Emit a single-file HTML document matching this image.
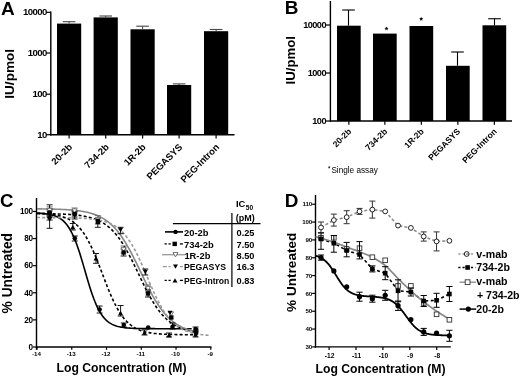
<!DOCTYPE html>
<html><head><meta charset="utf-8"><style>
html,body{margin:0;padding:0;background:#fff;}
svg{display:block;will-change:transform;}
text{font-family:"Liberation Sans",sans-serif;}
</style></head><body>
<svg width="520" height="377" viewBox="0 0 520 377">
<rect width="520" height="377" fill="#fff"/>
<text x="1.00" y="14.70" font-size="19" font-weight="bold" text-anchor="start" fill="#000" >A</text>
<line x1="50.80" y1="11.60" x2="50.80" y2="135.40" stroke="#000" stroke-width="1.4" />
<line x1="50.10" y1="134.70" x2="234.50" y2="134.70" stroke="#000" stroke-width="1.4" />
<line x1="46.30" y1="12.30" x2="50.80" y2="12.30" stroke="#000" stroke-width="1.2" />
<text x="46.80" y="15.40" font-size="9.6" font-weight="bold" text-anchor="end" fill="#000" letter-spacing="-0.6">10000</text>
<line x1="46.30" y1="53.00" x2="50.80" y2="53.00" stroke="#000" stroke-width="1.2" />
<text x="46.80" y="56.10" font-size="9.6" font-weight="bold" text-anchor="end" fill="#000" letter-spacing="-0.6">1000</text>
<line x1="46.30" y1="94.20" x2="50.80" y2="94.20" stroke="#000" stroke-width="1.2" />
<text x="46.80" y="97.30" font-size="9.6" font-weight="bold" text-anchor="end" fill="#000" letter-spacing="-0.6">100</text>
<line x1="46.30" y1="134.70" x2="50.80" y2="134.70" stroke="#000" stroke-width="1.2" />
<text x="46.80" y="137.80" font-size="9.6" font-weight="bold" text-anchor="end" fill="#000" letter-spacing="-0.6">10</text>
<rect x="57.00" y="23.60" width="24.20" height="111.10" fill="#000" />
<line x1="69.10" y1="21.70" x2="69.10" y2="23.60" stroke="#444" stroke-width="1.0" />
<line x1="62.80" y1="21.70" x2="75.40" y2="21.70" stroke="#444" stroke-width="1.1" />
<line x1="69.10" y1="134.70" x2="69.10" y2="138.50" stroke="#000" stroke-width="1.2" />
<text transform="translate(72.90,147.70) rotate(-45)" font-size="9.5" font-weight="bold" text-anchor="end" >20-2b</text>
<rect x="93.60" y="17.40" width="24.20" height="117.30" fill="#000" />
<line x1="105.70" y1="16.00" x2="105.70" y2="17.40" stroke="#444" stroke-width="1.0" />
<line x1="99.40" y1="16.00" x2="112.00" y2="16.00" stroke="#444" stroke-width="1.1" />
<line x1="105.70" y1="134.70" x2="105.70" y2="138.50" stroke="#000" stroke-width="1.2" />
<text transform="translate(109.50,147.70) rotate(-45)" font-size="9.5" font-weight="bold" text-anchor="end" >734-2b</text>
<rect x="130.50" y="29.30" width="24.20" height="105.40" fill="#000" />
<line x1="142.60" y1="26.20" x2="142.60" y2="29.30" stroke="#444" stroke-width="1.0" />
<line x1="136.30" y1="26.20" x2="148.90" y2="26.20" stroke="#444" stroke-width="1.1" />
<line x1="142.60" y1="134.70" x2="142.60" y2="138.50" stroke="#000" stroke-width="1.2" />
<text transform="translate(146.40,147.70) rotate(-45)" font-size="9.5" font-weight="bold" text-anchor="end" >1R-2b</text>
<rect x="167.00" y="85.00" width="24.20" height="49.70" fill="#000" />
<line x1="179.10" y1="83.90" x2="179.10" y2="85.00" stroke="#444" stroke-width="1.0" />
<line x1="172.80" y1="83.90" x2="185.40" y2="83.90" stroke="#444" stroke-width="1.1" />
<line x1="179.10" y1="134.70" x2="179.10" y2="138.50" stroke="#000" stroke-width="1.2" />
<text transform="translate(182.90,147.70) rotate(-45)" font-size="9.5" font-weight="bold" text-anchor="end" >PEGASYS</text>
<rect x="204.00" y="31.20" width="24.20" height="103.50" fill="#000" />
<line x1="216.10" y1="29.50" x2="216.10" y2="31.20" stroke="#444" stroke-width="1.0" />
<line x1="209.80" y1="29.50" x2="222.40" y2="29.50" stroke="#444" stroke-width="1.1" />
<line x1="216.10" y1="134.70" x2="216.10" y2="138.50" stroke="#000" stroke-width="1.2" />
<text transform="translate(219.90,147.70) rotate(-45)" font-size="9.5" font-weight="bold" text-anchor="end" >PEG-Intron</text>
<text transform="translate(13.90,73.80) rotate(-90)" font-size="13.6" font-weight="bold" text-anchor="middle" >IU/pmol</text>
<text x="284.80" y="14.10" font-size="18.9" font-weight="bold" text-anchor="start" fill="#000" >B</text>
<line x1="330.40" y1="1.00" x2="330.40" y2="121.70" stroke="#000" stroke-width="1.4" />
<line x1="329.70" y1="121.00" x2="512.00" y2="121.00" stroke="#000" stroke-width="1.4" />
<line x1="326.00" y1="25.00" x2="330.40" y2="25.00" stroke="#000" stroke-width="1.2" />
<text x="326.00" y="27.90" font-size="9.2" font-weight="bold" text-anchor="end" fill="#000" letter-spacing="-0.55">10000</text>
<line x1="326.00" y1="73.00" x2="330.40" y2="73.00" stroke="#000" stroke-width="1.2" />
<text x="326.00" y="75.90" font-size="9.2" font-weight="bold" text-anchor="end" fill="#000" letter-spacing="-0.55">1000</text>
<line x1="326.00" y1="121.00" x2="330.40" y2="121.00" stroke="#000" stroke-width="1.2" />
<text x="326.00" y="123.90" font-size="9.2" font-weight="bold" text-anchor="end" fill="#000" letter-spacing="-0.55">100</text>
<rect x="337.00" y="25.70" width="23.70" height="95.30" fill="#000" />
<line x1="348.50" y1="10.00" x2="348.50" y2="25.70" stroke="#000" stroke-width="1.1" />
<line x1="342.20" y1="10.00" x2="354.80" y2="10.00" stroke="#000" stroke-width="1.1" />
<line x1="348.85" y1="121.00" x2="348.85" y2="124.80" stroke="#000" stroke-width="1.2" />
<text transform="translate(351.85,132.00) rotate(-45)" font-size="8.5" font-weight="bold" text-anchor="end" >20-2b</text>
<rect x="373.00" y="33.60" width="23.70" height="87.40" fill="#000" />
<line x1="384.85" y1="121.00" x2="384.85" y2="124.80" stroke="#000" stroke-width="1.2" />
<text transform="translate(387.85,132.00) rotate(-45)" font-size="8.5" font-weight="bold" text-anchor="end" >734-2b</text>
<rect x="409.50" y="26.00" width="23.70" height="95.00" fill="#000" />
<line x1="421.35" y1="121.00" x2="421.35" y2="124.80" stroke="#000" stroke-width="1.2" />
<text transform="translate(424.35,132.00) rotate(-45)" font-size="8.5" font-weight="bold" text-anchor="end" >1R-2b</text>
<rect x="446.00" y="65.80" width="23.70" height="55.20" fill="#000" />
<line x1="457.50" y1="52.00" x2="457.50" y2="65.80" stroke="#000" stroke-width="1.1" />
<line x1="451.20" y1="52.00" x2="463.80" y2="52.00" stroke="#000" stroke-width="1.1" />
<line x1="457.85" y1="121.00" x2="457.85" y2="124.80" stroke="#000" stroke-width="1.2" />
<text transform="translate(460.85,132.00) rotate(-45)" font-size="8.5" font-weight="bold" text-anchor="end" >PEGASYS</text>
<rect x="482.50" y="25.30" width="23.70" height="95.70" fill="#000" />
<line x1="494.50" y1="18.75" x2="494.50" y2="25.30" stroke="#000" stroke-width="1.1" />
<line x1="488.20" y1="18.75" x2="500.80" y2="18.75" stroke="#000" stroke-width="1.1" />
<line x1="494.35" y1="121.00" x2="494.35" y2="124.80" stroke="#000" stroke-width="1.2" />
<text transform="translate(497.35,132.00) rotate(-45)" font-size="8.5" font-weight="bold" text-anchor="end" >PEG-Intron</text>
<polygon points="386.50,26.40 387.08,27.80 388.59,27.92 387.44,28.91 387.79,30.38 386.50,29.59 385.21,30.38 385.56,28.91 384.41,27.92 385.92,27.80" fill="#111"/>
<polygon points="421.20,16.70 421.78,18.10 423.29,18.22 422.14,19.21 422.49,20.68 421.20,19.89 419.91,20.68 420.26,19.21 419.11,18.22 420.62,18.10" fill="#111"/>
<text transform="translate(295.30,60.30) rotate(-90)" font-size="13.2" font-weight="bold" text-anchor="middle" >IU/pmol</text>
<polygon points="329.20,165.70 329.60,166.65 330.63,166.74 329.84,167.41 330.08,168.41 329.20,167.88 328.32,168.41 328.56,167.41 327.77,166.74 328.80,166.65" fill="#222"/>
<text x="331.40" y="173.00" font-size="8.2" font-weight="normal" text-anchor="start" fill="#000" >Single assay</text>
<text x="0.00" y="207.00" font-size="18.6" font-weight="bold" text-anchor="start" fill="#000" >C</text>
<line x1="36.50" y1="198.00" x2="36.50" y2="349.80" stroke="#000" stroke-width="1.4" />
<line x1="35.80" y1="347.00" x2="211.40" y2="347.00" stroke="#000" stroke-width="1.4" />
<line x1="32.80" y1="347.00" x2="36.50" y2="347.00" stroke="#000" stroke-width="1.2" />
<text x="32.90" y="349.75" font-size="8.2" font-weight="bold" text-anchor="end" fill="#000" letter-spacing="-0.25">0</text>
<line x1="32.80" y1="319.89" x2="36.50" y2="319.89" stroke="#000" stroke-width="1.2" />
<text x="32.90" y="322.64" font-size="8.2" font-weight="bold" text-anchor="end" fill="#000" letter-spacing="-0.25">20</text>
<line x1="32.80" y1="292.78" x2="36.50" y2="292.78" stroke="#000" stroke-width="1.2" />
<text x="32.90" y="295.53" font-size="8.2" font-weight="bold" text-anchor="end" fill="#000" letter-spacing="-0.25">40</text>
<line x1="32.80" y1="265.67" x2="36.50" y2="265.67" stroke="#000" stroke-width="1.2" />
<text x="32.90" y="268.42" font-size="8.2" font-weight="bold" text-anchor="end" fill="#000" letter-spacing="-0.25">60</text>
<line x1="32.80" y1="238.56" x2="36.50" y2="238.56" stroke="#000" stroke-width="1.2" />
<text x="32.90" y="241.31" font-size="8.2" font-weight="bold" text-anchor="end" fill="#000" letter-spacing="-0.25">80</text>
<line x1="32.80" y1="211.45" x2="36.50" y2="211.45" stroke="#000" stroke-width="1.2" />
<text x="32.90" y="214.20" font-size="8.2" font-weight="bold" text-anchor="end" fill="#000" letter-spacing="-0.25">100</text>
<line x1="37.00" y1="347.00" x2="37.00" y2="349.80" stroke="#000" stroke-width="1.2" />
<text x="36.40" y="355.80" font-size="6.2" font-weight="bold" text-anchor="middle" fill="#000" >-14</text>
<line x1="71.76" y1="347.00" x2="71.76" y2="349.80" stroke="#000" stroke-width="1.2" />
<text x="71.16" y="355.80" font-size="6.2" font-weight="bold" text-anchor="middle" fill="#000" >-13</text>
<line x1="106.52" y1="347.00" x2="106.52" y2="349.80" stroke="#000" stroke-width="1.2" />
<text x="105.92" y="355.80" font-size="6.2" font-weight="bold" text-anchor="middle" fill="#000" >-12</text>
<line x1="141.28" y1="347.00" x2="141.28" y2="349.80" stroke="#000" stroke-width="1.2" />
<text x="140.68" y="355.80" font-size="6.2" font-weight="bold" text-anchor="middle" fill="#000" >-11</text>
<line x1="176.04" y1="347.00" x2="176.04" y2="349.80" stroke="#000" stroke-width="1.2" />
<text x="175.44" y="355.80" font-size="6.2" font-weight="bold" text-anchor="middle" fill="#000" >-10</text>
<line x1="210.80" y1="347.00" x2="210.80" y2="349.80" stroke="#000" stroke-width="1.2" />
<text x="210.20" y="355.80" font-size="6.2" font-weight="bold" text-anchor="middle" fill="#000" >-9</text>
<text x="121.50" y="372.30" font-size="12.2" font-weight="bold" text-anchor="middle" fill="#000" >Log Concentration (M)</text>
<text transform="translate(11.80,273.20) rotate(-90)" font-size="13.8" font-weight="bold" text-anchor="middle" >% Untreated</text>
<path d="M37.00,213.18 L38.29,213.25 L39.58,213.32 L40.87,213.41 L42.16,213.50 L43.45,213.62 L44.73,213.75 L46.02,213.91 L47.31,214.09 L48.60,214.30 L49.89,214.55 L51.18,214.83 L52.47,215.16 L53.76,215.54 L55.05,215.99 L56.34,216.50 L57.62,217.09 L58.91,217.77 L60.20,218.55 L61.49,219.45 L62.78,220.48 L64.07,221.66 L65.36,223.00 L66.65,224.53 L67.94,226.25 L69.23,228.19 L70.51,230.35 L71.80,232.77 L73.09,235.44 L74.38,238.37 L75.67,241.56 L76.96,245.01 L78.25,248.70 L79.54,252.62 L80.83,256.73 L82.12,260.99 L83.40,265.36 L84.69,269.80 L85.98,274.25 L87.27,278.66 L88.56,282.98 L89.85,287.15 L91.14,291.16 L92.43,294.95 L93.72,298.50 L95.01,301.81 L96.29,304.85 L97.58,307.63 L98.87,310.15 L100.16,312.42 L101.45,314.46 L102.74,316.27 L104.03,317.87 L105.32,319.29 L106.61,320.54 L107.90,321.63 L109.18,322.58 L110.47,323.42 L111.76,324.14 L113.05,324.77 L114.34,325.31 L115.63,325.78 L116.92,326.19 L118.21,326.54 L119.50,326.84 L120.79,327.10 L122.08,327.33 L123.36,327.52 L124.65,327.69 L125.94,327.83 L127.23,327.95 L128.52,328.06 L129.81,328.15 L131.10,328.23 L132.39,328.30 L133.68,328.35 L134.97,328.40 L136.25,328.45 L137.54,328.48 L138.83,328.51 L140.12,328.54 L141.41,328.56 L142.70,328.58 L143.99,328.60 L145.28,328.61 L146.57,328.63 L147.86,328.64 L149.14,328.65 L150.43,328.65 L151.72,328.66 L153.01,328.67 L154.30,328.67 L155.59,328.68 L156.88,328.68 L158.17,328.68 L159.46,328.68 L160.75,328.69 L162.03,328.69 L163.32,328.69 L164.61,328.69 L165.90,328.69 L167.19,328.69 L168.48,328.70 L169.77,328.70 L171.06,328.70 L172.35,328.70 L173.64,328.70 L174.92,328.70 L176.21,328.70 L177.50,328.70 L178.79,328.70 L180.08,328.70 L181.37,328.70 L182.66,328.70 L183.95,328.70 L185.24,328.70 L186.53,328.70 L187.81,328.70 L189.10,328.70 L190.39,328.70 L191.68,328.70" fill="none" stroke="#000" stroke-width="1.6" />
<path d="M37.00,213.59 L38.32,213.60 L39.64,213.61 L40.95,213.62 L42.27,213.63 L43.59,213.65 L44.91,213.66 L46.23,213.68 L47.54,213.70 L48.86,213.72 L50.18,213.74 L51.50,213.77 L52.82,213.79 L54.13,213.82 L55.45,213.86 L56.77,213.89 L58.09,213.93 L59.41,213.97 L60.72,214.02 L62.04,214.07 L63.36,214.13 L64.68,214.19 L66.00,214.26 L67.31,214.33 L68.63,214.41 L69.95,214.50 L71.27,214.60 L72.59,214.70 L73.90,214.82 L75.22,214.94 L76.54,215.08 L77.86,215.23 L79.18,215.40 L80.49,215.58 L81.81,215.78 L83.13,215.99 L84.45,216.23 L85.77,216.49 L87.08,216.77 L88.40,217.07 L89.72,217.41 L91.04,217.77 L92.36,218.17 L93.67,218.60 L94.99,219.06 L96.31,219.57 L97.63,220.12 L98.95,220.72 L100.26,221.37 L101.58,222.08 L102.90,222.84 L104.22,223.66 L105.54,224.55 L106.85,225.50 L108.17,226.53 L109.49,227.64 L110.81,228.83 L112.13,230.10 L113.44,231.45 L114.76,232.90 L116.08,234.44 L117.40,236.08 L118.71,237.81 L120.03,239.64 L121.35,241.56 L122.67,243.59 L123.99,245.71 L125.30,247.92 L126.62,250.22 L127.94,252.60 L129.26,255.06 L130.58,257.59 L131.89,260.19 L133.21,262.84 L134.53,265.53 L135.85,268.26 L137.17,271.01 L138.48,273.77 L139.80,276.54 L141.12,279.29 L142.44,282.02 L143.76,284.71 L145.07,287.36 L146.39,289.96 L147.71,292.49 L149.03,294.95 L150.35,297.34 L151.66,299.64 L152.98,301.85 L154.30,303.97 L155.62,306.00 L156.94,307.93 L158.25,309.76 L159.57,311.49 L160.89,313.13 L162.21,314.67 L163.53,316.12 L164.84,317.48 L166.16,318.75 L167.48,319.94 L168.80,321.05 L170.12,322.08 L171.43,323.04 L172.75,323.93 L174.07,324.75 L175.39,325.51 L176.71,326.22 L178.02,326.87 L179.34,327.47 L180.66,328.02 L181.98,328.53 L183.30,329.00 L184.61,329.43 L185.93,329.83 L187.25,330.19 L188.57,330.53 L189.89,330.83 L191.20,331.11 L192.52,331.37 L193.84,331.61 L195.16,331.82" fill="none" stroke="#000" stroke-width="1.6" stroke-dasharray="3,2.2"/>
<path d="M37.00,208.87 L38.32,208.88 L39.64,208.90 L40.95,208.91 L42.27,208.93 L43.59,208.94 L44.91,208.96 L46.23,208.98 L47.54,209.00 L48.86,209.03 L50.18,209.05 L51.50,209.08 L52.82,209.11 L54.13,209.15 L55.45,209.19 L56.77,209.23 L58.09,209.27 L59.41,209.32 L60.72,209.37 L62.04,209.43 L63.36,209.49 L64.68,209.56 L66.00,209.63 L67.31,209.71 L68.63,209.80 L69.95,209.90 L71.27,210.00 L72.59,210.12 L73.90,210.24 L75.22,210.38 L76.54,210.53 L77.86,210.69 L79.18,210.86 L80.49,211.05 L81.81,211.26 L83.13,211.48 L84.45,211.73 L85.77,211.99 L87.08,212.28 L88.40,212.59 L89.72,212.93 L91.04,213.30 L92.36,213.70 L93.67,214.13 L94.99,214.60 L96.31,215.11 L97.63,215.66 L98.95,216.25 L100.26,216.90 L101.58,217.59 L102.90,218.33 L104.22,219.14 L105.54,220.00 L106.85,220.93 L108.17,221.92 L109.49,222.99 L110.81,224.13 L112.13,225.35 L113.44,226.65 L114.76,228.04 L116.08,229.51 L117.40,231.07 L118.71,232.72 L120.03,234.46 L121.35,236.29 L122.67,238.22 L123.99,240.23 L125.30,242.34 L126.62,244.54 L127.94,246.82 L129.26,249.18 L130.58,251.61 L131.89,254.11 L133.21,256.68 L134.53,259.30 L135.85,261.96 L137.17,264.66 L138.48,267.39 L139.80,270.14 L141.12,272.89 L142.44,275.64 L143.76,278.37 L145.07,281.07 L146.39,283.75 L147.71,286.38 L149.03,288.95 L150.35,291.47 L151.66,293.92 L152.98,296.29 L154.30,298.58 L155.62,300.79 L156.94,302.92 L158.25,304.95 L159.57,306.90 L160.89,308.75 L162.21,310.51 L163.53,312.17 L164.84,313.75 L166.16,315.23 L167.48,316.63 L168.80,317.95 L170.12,319.18 L171.43,320.34 L172.75,321.42 L174.07,322.43 L175.39,323.37 L176.71,324.25 L178.02,325.06 L179.34,325.82 L180.66,326.52 L181.98,327.17 L183.30,327.77 L184.61,328.33 L185.93,328.84 L187.25,329.32 L188.57,329.76 L189.89,330.17 L191.20,330.54 L192.52,330.89 L193.84,331.20 L195.16,331.50" fill="none" stroke="#888" stroke-width="1.6" />
<path d="M37.00,217.57 L38.45,217.57 L39.90,217.57 L41.34,217.58 L42.79,217.58 L44.24,217.58 L45.69,217.59 L47.14,217.59 L48.59,217.60 L50.03,217.60 L51.48,217.61 L52.93,217.62 L54.38,217.62 L55.83,217.63 L57.28,217.64 L58.72,217.65 L60.17,217.67 L61.62,217.68 L63.07,217.70 L64.52,217.72 L65.97,217.74 L67.41,217.76 L68.86,217.78 L70.31,217.81 L71.76,217.84 L73.21,217.88 L74.66,217.92 L76.10,217.97 L77.55,218.02 L79.00,218.07 L80.45,218.14 L81.90,218.21 L83.35,218.29 L84.79,218.38 L86.24,218.48 L87.69,218.59 L89.14,218.71 L90.59,218.85 L92.04,219.01 L93.48,219.19 L94.93,219.38 L96.38,219.60 L97.83,219.85 L99.28,220.12 L100.73,220.43 L102.17,220.77 L103.62,221.15 L105.07,221.58 L106.52,222.05 L107.97,222.58 L109.42,223.16 L110.86,223.81 L112.31,224.53 L113.76,225.32 L115.21,226.20 L116.66,227.17 L118.11,228.24 L119.55,229.42 L121.00,230.70 L122.45,232.11 L123.90,233.65 L125.35,235.32 L126.80,237.13 L128.25,239.08 L129.69,241.19 L131.14,243.44 L132.59,245.85 L134.04,248.40 L135.49,251.10 L136.94,253.94 L138.38,256.91 L139.83,259.99 L141.28,263.18 L142.73,266.45 L144.18,269.79 L145.62,273.17 L147.07,276.58 L148.52,279.99 L149.97,283.38 L151.42,286.73 L152.87,290.01 L154.31,293.21 L155.76,296.31 L157.21,299.30 L158.66,302.16 L160.11,304.88 L161.56,307.46 L163.00,309.89 L164.45,312.17 L165.90,314.30 L167.35,316.28 L168.80,318.11 L170.25,319.80 L171.69,321.36 L173.14,322.79 L174.59,324.09 L176.04,325.28 L177.49,326.37 L178.94,327.35 L180.38,328.25 L181.83,329.06 L183.28,329.79 L184.73,330.45 L186.18,331.04 L187.63,331.57 L189.07,332.06 L190.52,332.49 L191.97,332.88 L193.42,333.22 L194.87,333.54 L196.32,333.81 L197.76,334.06 L199.21,334.29 L200.66,334.49 L202.11,334.67 L203.56,334.83 L205.01,334.97 L206.45,335.10 L207.90,335.21 L209.35,335.31 L210.80,335.41" fill="none" stroke="#999" stroke-width="1.6" stroke-dasharray="3,2.2"/>
<path d="M37.00,213.24 L38.32,213.30 L39.64,213.35 L40.95,213.42 L42.27,213.49 L43.59,213.57 L44.91,213.67 L46.23,213.77 L47.54,213.88 L48.86,214.01 L50.18,214.16 L51.50,214.32 L52.82,214.50 L54.13,214.70 L55.45,214.92 L56.77,215.17 L58.09,215.44 L59.41,215.75 L60.72,216.10 L62.04,216.48 L63.36,216.91 L64.68,217.39 L66.00,217.91 L67.31,218.50 L68.63,219.15 L69.95,219.86 L71.27,220.66 L72.59,221.53 L73.90,222.50 L75.22,223.56 L76.54,224.73 L77.86,226.01 L79.18,227.40 L80.49,228.93 L81.81,230.58 L83.13,232.38 L84.45,234.31 L85.77,236.40 L87.08,238.63 L88.40,241.02 L89.72,243.56 L91.04,246.24 L92.36,249.06 L93.67,252.02 L94.99,255.10 L96.31,258.29 L97.63,261.57 L98.95,264.93 L100.26,268.34 L101.58,271.79 L102.90,275.25 L104.22,278.70 L105.54,282.12 L106.85,285.49 L108.17,288.78 L109.49,291.99 L110.81,295.09 L112.13,298.06 L113.44,300.91 L114.76,303.62 L116.08,306.18 L117.40,308.59 L118.71,310.85 L120.03,312.96 L121.35,314.92 L122.67,316.74 L123.99,318.42 L125.30,319.96 L126.62,321.38 L127.94,322.67 L129.26,323.86 L130.58,324.94 L131.89,325.92 L133.21,326.81 L134.53,327.62 L135.85,328.35 L137.17,329.01 L138.48,329.60 L139.80,330.14 L141.12,330.62 L142.44,331.06 L143.76,331.45 L145.07,331.80 L146.39,332.11 L147.71,332.40 L149.03,332.65 L150.35,332.88 L151.66,333.08 L152.98,333.26 L154.30,333.43 L155.62,333.57 L156.94,333.70 L158.25,333.82 L159.57,333.92 L160.89,334.02 L162.21,334.10 L163.53,334.18 L164.84,334.24 L166.16,334.30 L167.48,334.35 L168.80,334.40 L170.12,334.45 L171.43,334.48 L172.75,334.52 L174.07,334.55 L175.39,334.57 L176.71,334.60 L178.02,334.62 L179.34,334.64 L180.66,334.66 L181.98,334.67 L183.30,334.69 L184.61,334.70 L185.93,334.71 L187.25,334.72 L188.57,334.73 L189.89,334.74 L191.20,334.74 L192.52,334.75 L193.84,334.75 L195.16,334.76" fill="none" stroke="#000" stroke-width="1.6" stroke-dasharray="3,2.2"/>
<line x1="172.90" y1="223.60" x2="260.50" y2="223.60" stroke="#000" stroke-width="1.2" />
<line x1="231.90" y1="212.90" x2="231.90" y2="287.00" stroke="#000" stroke-width="1.2" />
<text x="236.00" y="206.90" font-size="9.4" font-weight="bold" text-anchor="start" fill="#000" >IC</text>
<text x="245.80" y="209.60" font-size="6.6" font-weight="bold" text-anchor="start" fill="#000" >50</text>
<text x="235.80" y="221.30" font-size="9.0" font-weight="bold" text-anchor="start" fill="#000" >(pM)</text>
<text x="236.60" y="235.60" font-size="9.2" font-weight="bold" text-anchor="start" fill="#000" >0.25</text>
<text x="236.60" y="247.60" font-size="9.2" font-weight="bold" text-anchor="start" fill="#000" >7.50</text>
<text x="236.60" y="259.00" font-size="9.2" font-weight="bold" text-anchor="start" fill="#000" >8.50</text>
<text x="236.60" y="270.20" font-size="9.2" font-weight="bold" text-anchor="start" fill="#000" >16.3</text>
<text x="236.60" y="284.00" font-size="9.2" font-weight="bold" text-anchor="start" fill="#000" >0.83</text>
<text x="184.00" y="235.60" font-size="9.4" font-weight="bold" text-anchor="start" fill="#000" >20-2b</text>
<text x="184.00" y="247.60" font-size="9.4" font-weight="bold" text-anchor="start" fill="#000" >734-2b</text>
<text x="184.40" y="259.00" font-size="9.4" font-weight="bold" text-anchor="start" fill="#000" >1R-2b</text>
<text x="184.00" y="270.20" font-size="8.7" font-weight="bold" text-anchor="start" fill="#000" >PEGASYS</text>
<text x="184.00" y="284.00" font-size="8.6" font-weight="bold" text-anchor="start" fill="#000" >PEG-Intron</text>
<line x1="49.60" y1="206.90" x2="49.60" y2="214.50" stroke="#666" stroke-width="0.9" />
<line x1="46.60" y1="206.90" x2="52.60" y2="206.90" stroke="#666" stroke-width="0.9" />
<line x1="46.60" y1="214.50" x2="52.60" y2="214.50" stroke="#666" stroke-width="0.9" />
<line x1="74.60" y1="208.00" x2="74.60" y2="214.00" stroke="#666" stroke-width="0.9" />
<line x1="71.60" y1="208.00" x2="77.60" y2="208.00" stroke="#666" stroke-width="0.9" />
<line x1="71.60" y1="214.00" x2="77.60" y2="214.00" stroke="#666" stroke-width="0.9" />
<line x1="97.80" y1="215.60" x2="97.80" y2="224.00" stroke="#666" stroke-width="0.9" />
<line x1="94.80" y1="215.60" x2="100.80" y2="215.60" stroke="#666" stroke-width="0.9" />
<line x1="94.80" y1="224.00" x2="100.80" y2="224.00" stroke="#666" stroke-width="0.9" />
<line x1="123.60" y1="246.00" x2="123.60" y2="253.00" stroke="#666" stroke-width="0.9" />
<line x1="120.60" y1="246.00" x2="126.60" y2="246.00" stroke="#666" stroke-width="0.9" />
<line x1="120.60" y1="253.00" x2="126.60" y2="253.00" stroke="#666" stroke-width="0.9" />
<line x1="148.00" y1="285.00" x2="148.00" y2="292.00" stroke="#666" stroke-width="0.9" />
<line x1="145.00" y1="285.00" x2="151.00" y2="285.00" stroke="#666" stroke-width="0.9" />
<line x1="145.00" y1="292.00" x2="151.00" y2="292.00" stroke="#666" stroke-width="0.9" />
<line x1="49.60" y1="215.00" x2="49.60" y2="228.30" stroke="#000" stroke-width="0.9" />
<line x1="46.60" y1="215.00" x2="52.60" y2="215.00" stroke="#000" stroke-width="0.9" />
<line x1="46.60" y1="228.30" x2="52.60" y2="228.30" stroke="#000" stroke-width="0.9" />
<line x1="74.60" y1="212.00" x2="74.60" y2="219.00" stroke="#000" stroke-width="0.9" />
<line x1="71.60" y1="212.00" x2="77.60" y2="212.00" stroke="#000" stroke-width="0.9" />
<line x1="71.60" y1="219.00" x2="77.60" y2="219.00" stroke="#000" stroke-width="0.9" />
<line x1="120.60" y1="227.30" x2="120.60" y2="233.70" stroke="#000" stroke-width="0.9" />
<line x1="117.60" y1="227.30" x2="123.60" y2="227.30" stroke="#000" stroke-width="0.9" />
<line x1="117.60" y1="233.70" x2="123.60" y2="233.70" stroke="#000" stroke-width="0.9" />
<line x1="145.30" y1="269.00" x2="145.30" y2="275.00" stroke="#000" stroke-width="0.9" />
<line x1="142.30" y1="269.00" x2="148.30" y2="269.00" stroke="#000" stroke-width="0.9" />
<line x1="142.30" y1="275.00" x2="148.30" y2="275.00" stroke="#000" stroke-width="0.9" />
<line x1="49.60" y1="209.00" x2="49.60" y2="217.00" stroke="#000" stroke-width="0.9" />
<line x1="46.60" y1="209.00" x2="52.60" y2="209.00" stroke="#000" stroke-width="0.9" />
<line x1="46.60" y1="217.00" x2="52.60" y2="217.00" stroke="#000" stroke-width="0.9" />
<line x1="74.60" y1="211.00" x2="74.60" y2="217.00" stroke="#000" stroke-width="0.9" />
<line x1="71.60" y1="211.00" x2="77.60" y2="211.00" stroke="#000" stroke-width="0.9" />
<line x1="71.60" y1="217.00" x2="77.60" y2="217.00" stroke="#000" stroke-width="0.9" />
<line x1="97.80" y1="218.00" x2="97.80" y2="227.30" stroke="#000" stroke-width="0.9" />
<line x1="94.80" y1="218.00" x2="100.80" y2="218.00" stroke="#000" stroke-width="0.9" />
<line x1="94.80" y1="227.30" x2="100.80" y2="227.30" stroke="#000" stroke-width="0.9" />
<line x1="123.60" y1="249.00" x2="123.60" y2="256.00" stroke="#000" stroke-width="0.9" />
<line x1="120.60" y1="249.00" x2="126.60" y2="249.00" stroke="#000" stroke-width="0.9" />
<line x1="120.60" y1="256.00" x2="126.60" y2="256.00" stroke="#000" stroke-width="0.9" />
<line x1="148.00" y1="290.00" x2="148.00" y2="297.00" stroke="#000" stroke-width="0.9" />
<line x1="145.00" y1="290.00" x2="151.00" y2="290.00" stroke="#000" stroke-width="0.9" />
<line x1="145.00" y1="297.00" x2="151.00" y2="297.00" stroke="#000" stroke-width="0.9" />
<line x1="49.60" y1="211.00" x2="49.60" y2="220.00" stroke="#000" stroke-width="0.9" />
<line x1="46.60" y1="211.00" x2="52.60" y2="211.00" stroke="#000" stroke-width="0.9" />
<line x1="46.60" y1="220.00" x2="52.60" y2="220.00" stroke="#000" stroke-width="0.9" />
<line x1="72.80" y1="223.50" x2="72.80" y2="230.00" stroke="#000" stroke-width="0.9" />
<line x1="69.80" y1="223.50" x2="75.80" y2="223.50" stroke="#000" stroke-width="0.9" />
<line x1="69.80" y1="230.00" x2="75.80" y2="230.00" stroke="#000" stroke-width="0.9" />
<line x1="96.00" y1="253.50" x2="96.00" y2="263.30" stroke="#000" stroke-width="0.9" />
<line x1="93.00" y1="253.50" x2="99.00" y2="253.50" stroke="#000" stroke-width="0.9" />
<line x1="93.00" y1="263.30" x2="99.00" y2="263.30" stroke="#000" stroke-width="0.9" />
<line x1="120.60" y1="305.50" x2="120.60" y2="316.00" stroke="#000" stroke-width="0.9" />
<line x1="117.60" y1="305.50" x2="123.60" y2="305.50" stroke="#000" stroke-width="0.9" />
<line x1="117.60" y1="316.00" x2="123.60" y2="316.00" stroke="#000" stroke-width="0.9" />
<line x1="144.50" y1="330.00" x2="144.50" y2="335.00" stroke="#000" stroke-width="0.9" />
<line x1="141.50" y1="330.00" x2="147.50" y2="330.00" stroke="#000" stroke-width="0.9" />
<line x1="141.50" y1="335.00" x2="147.50" y2="335.00" stroke="#000" stroke-width="0.9" />
<line x1="169.00" y1="333.00" x2="169.00" y2="337.00" stroke="#000" stroke-width="0.9" />
<line x1="166.00" y1="333.00" x2="172.00" y2="333.00" stroke="#000" stroke-width="0.9" />
<line x1="166.00" y1="337.00" x2="172.00" y2="337.00" stroke="#000" stroke-width="0.9" />
<line x1="195.60" y1="332.00" x2="195.60" y2="337.00" stroke="#000" stroke-width="0.9" />
<line x1="192.60" y1="332.00" x2="198.60" y2="332.00" stroke="#000" stroke-width="0.9" />
<line x1="192.60" y1="337.00" x2="198.60" y2="337.00" stroke="#000" stroke-width="0.9" />
<line x1="49.60" y1="204.80" x2="49.60" y2="216.00" stroke="#000" stroke-width="0.9" />
<line x1="46.60" y1="204.80" x2="52.60" y2="204.80" stroke="#000" stroke-width="0.9" />
<line x1="46.60" y1="216.00" x2="52.60" y2="216.00" stroke="#000" stroke-width="0.9" />
<line x1="74.80" y1="236.00" x2="74.80" y2="241.00" stroke="#000" stroke-width="0.9" />
<line x1="71.80" y1="236.00" x2="77.80" y2="236.00" stroke="#000" stroke-width="0.9" />
<line x1="71.80" y1="241.00" x2="77.80" y2="241.00" stroke="#000" stroke-width="0.9" />
<line x1="99.60" y1="306.00" x2="99.60" y2="313.00" stroke="#000" stroke-width="0.9" />
<line x1="96.60" y1="306.00" x2="102.60" y2="306.00" stroke="#000" stroke-width="0.9" />
<line x1="96.60" y1="313.00" x2="102.60" y2="313.00" stroke="#000" stroke-width="0.9" />
<line x1="123.80" y1="323.00" x2="123.80" y2="327.00" stroke="#000" stroke-width="0.9" />
<line x1="120.80" y1="323.00" x2="126.80" y2="323.00" stroke="#000" stroke-width="0.9" />
<line x1="120.80" y1="327.00" x2="126.80" y2="327.00" stroke="#000" stroke-width="0.9" />
<line x1="172.50" y1="323.00" x2="172.50" y2="329.00" stroke="#000" stroke-width="0.9" />
<line x1="169.50" y1="323.00" x2="175.50" y2="323.00" stroke="#000" stroke-width="0.9" />
<line x1="169.50" y1="329.00" x2="175.50" y2="329.00" stroke="#000" stroke-width="0.9" />
<line x1="195.60" y1="327.00" x2="195.60" y2="331.00" stroke="#000" stroke-width="0.9" />
<line x1="192.60" y1="327.00" x2="198.60" y2="327.00" stroke="#000" stroke-width="0.9" />
<line x1="192.60" y1="331.00" x2="198.60" y2="331.00" stroke="#000" stroke-width="0.9" />
<polygon points="47.10,208.34 52.10,208.34 49.60,212.66" fill="#fff" stroke="#666" stroke-width="0.9"/>
<polygon points="72.10,208.84 77.10,208.84 74.60,213.16" fill="#fff" stroke="#666" stroke-width="0.9"/>
<polygon points="95.30,217.84 100.30,217.84 97.80,222.16" fill="#fff" stroke="#666" stroke-width="0.9"/>
<polygon points="121.10,247.34 126.10,247.34 123.60,251.66" fill="#fff" stroke="#666" stroke-width="0.9"/>
<polygon points="145.50,286.33 150.50,286.33 148.00,290.67" fill="#fff" stroke="#666" stroke-width="0.9"/>
<polygon points="168.50,311.83 173.50,311.83 171.00,316.17" fill="#fff" stroke="#666" stroke-width="0.9"/>
<polygon points="193.50,329.33 198.50,329.33 196.00,333.67" fill="#fff" stroke="#666" stroke-width="0.9"/>
<polygon points="47.10,217.34 52.10,217.34 49.60,221.66" fill="#000" stroke="none" stroke-width="0.9"/>
<polygon points="72.10,213.34 77.10,213.34 74.60,217.66" fill="#000" stroke="none" stroke-width="0.9"/>
<polygon points="95.30,218.84 100.30,218.84 97.80,223.16" fill="#000" stroke="none" stroke-width="0.9"/>
<polygon points="118.10,227.84 123.10,227.84 120.60,232.16" fill="#000" stroke="none" stroke-width="0.9"/>
<polygon points="142.80,269.83 147.80,269.83 145.30,274.17" fill="#000" stroke="none" stroke-width="0.9"/>
<polygon points="167.50,310.83 172.50,310.83 170.00,315.17" fill="#000" stroke="none" stroke-width="0.9"/>
<polygon points="193.50,328.33 198.50,328.33 196.00,332.67" fill="#000" stroke="none" stroke-width="0.9"/>
<rect x="47.40" y="210.80" width="4.4" height="4.4" fill="#000" stroke="none" stroke-width="0.9"/>
<rect x="72.40" y="211.80" width="4.4" height="4.4" fill="#000" stroke="none" stroke-width="0.9"/>
<rect x="95.60" y="219.80" width="4.4" height="4.4" fill="#000" stroke="none" stroke-width="0.9"/>
<rect x="121.40" y="250.30" width="4.4" height="4.4" fill="#000" stroke="none" stroke-width="0.9"/>
<rect x="145.80" y="291.30" width="4.4" height="4.4" fill="#000" stroke="none" stroke-width="0.9"/>
<rect x="169.10" y="315.30" width="4.4" height="4.4" fill="#000" stroke="none" stroke-width="0.9"/>
<rect x="193.80" y="330.30" width="4.4" height="4.4" fill="#000" stroke="none" stroke-width="0.9"/>
<polygon points="47.10,218.16 52.10,218.16 49.60,213.84" fill="#000" stroke="none" stroke-width="0.9"/>
<polygon points="70.30,229.16 75.30,229.16 72.80,224.84" fill="#000" stroke="none" stroke-width="0.9"/>
<polygon points="93.50,260.56 98.50,260.56 96.00,256.23" fill="#000" stroke="none" stroke-width="0.9"/>
<polygon points="118.10,315.17 123.10,315.17 120.60,310.83" fill="#000" stroke="none" stroke-width="0.9"/>
<polygon points="142.00,334.67 147.00,334.67 144.50,330.33" fill="#000" stroke="none" stroke-width="0.9"/>
<polygon points="166.50,337.17 171.50,337.17 169.00,332.83" fill="#000" stroke="none" stroke-width="0.9"/>
<polygon points="193.10,336.67 198.10,336.67 195.60,332.33" fill="#000" stroke="none" stroke-width="0.9"/>
<circle cx="49.60" cy="212.50" r="2.3" fill="#000" stroke="none" stroke-width="0.9"/>
<circle cx="74.80" cy="238.20" r="2.3" fill="#000" stroke="none" stroke-width="0.9"/>
<circle cx="99.60" cy="309.60" r="2.3" fill="#000" stroke="none" stroke-width="0.9"/>
<circle cx="123.80" cy="325.00" r="2.3" fill="#000" stroke="none" stroke-width="0.9"/>
<circle cx="148.20" cy="327.50" r="2.3" fill="#000" stroke="none" stroke-width="0.9"/>
<circle cx="172.50" cy="326.90" r="2.3" fill="#000" stroke="none" stroke-width="0.9"/>
<circle cx="195.60" cy="329.00" r="2.3" fill="#000" stroke="none" stroke-width="0.9"/>
<line x1="165.00" y1="231.90" x2="183.00" y2="231.90" stroke="#000" stroke-width="1.6" />
<circle cx="175.50" cy="231.90" r="2.2" fill="#000" stroke="none" stroke-width="0.9"/>
<line x1="164.60" y1="243.90" x2="166.80" y2="243.90" stroke="#000" stroke-width="1.3" />
<line x1="168.50" y1="243.90" x2="170.70" y2="243.90" stroke="#000" stroke-width="1.3" />
<line x1="179.90" y1="243.90" x2="182.90" y2="243.90" stroke="#000" stroke-width="1.3" />
<rect x="172.50" y="241.70" width="4.4" height="4.4" fill="#000" stroke="none" stroke-width="0.9"/>
<line x1="162.00" y1="254.70" x2="185.00" y2="254.70" stroke="#999" stroke-width="1.3" />
<polygon points="173.00,252.53 178.00,252.53 175.50,256.87" fill="#fff" stroke="#666" stroke-width="0.9"/>
<line x1="162.80" y1="266.60" x2="165.00" y2="266.60" stroke="#999" stroke-width="1.3" />
<line x1="164.60" y1="266.60" x2="166.80" y2="266.60" stroke="#999" stroke-width="1.3" />
<line x1="168.50" y1="266.60" x2="170.70" y2="266.60" stroke="#999" stroke-width="1.3" />
<line x1="179.90" y1="266.60" x2="182.90" y2="266.60" stroke="#999" stroke-width="1.3" />
<polygon points="173.00,264.43 178.00,264.43 175.50,268.76" fill="#000" stroke="none" stroke-width="0.9"/>
<line x1="164.60" y1="280.40" x2="166.80" y2="280.40" stroke="#000" stroke-width="1.3" />
<line x1="168.50" y1="280.40" x2="170.70" y2="280.40" stroke="#000" stroke-width="1.3" />
<line x1="179.90" y1="280.40" x2="182.90" y2="280.40" stroke="#000" stroke-width="1.3" />
<polygon points="172.50,282.56 177.50,282.56 175.00,278.23" fill="#000" stroke="none" stroke-width="0.9"/>
<text x="284.80" y="207.30" font-size="18.9" font-weight="bold" text-anchor="start" fill="#000" >D</text>
<line x1="315.50" y1="195.00" x2="315.50" y2="347.60" stroke="#000" stroke-width="1.4" />
<line x1="314.80" y1="346.90" x2="450.80" y2="346.90" stroke="#000" stroke-width="1.4" />
<line x1="312.10" y1="346.90" x2="315.50" y2="346.90" stroke="#000" stroke-width="1.2" />
<text x="312.00" y="349.10" font-size="6.2" font-weight="bold" text-anchor="end" fill="#000" letter-spacing="-0.2">30</text>
<line x1="312.10" y1="329.07" x2="315.50" y2="329.07" stroke="#000" stroke-width="1.2" />
<text x="312.00" y="331.27" font-size="6.2" font-weight="bold" text-anchor="end" fill="#000" letter-spacing="-0.2">40</text>
<line x1="312.10" y1="311.24" x2="315.50" y2="311.24" stroke="#000" stroke-width="1.2" />
<text x="312.00" y="313.44" font-size="6.2" font-weight="bold" text-anchor="end" fill="#000" letter-spacing="-0.2">50</text>
<line x1="312.10" y1="293.41" x2="315.50" y2="293.41" stroke="#000" stroke-width="1.2" />
<text x="312.00" y="295.61" font-size="6.2" font-weight="bold" text-anchor="end" fill="#000" letter-spacing="-0.2">60</text>
<line x1="312.10" y1="275.58" x2="315.50" y2="275.58" stroke="#000" stroke-width="1.2" />
<text x="312.00" y="277.78" font-size="6.2" font-weight="bold" text-anchor="end" fill="#000" letter-spacing="-0.2">70</text>
<line x1="312.10" y1="257.75" x2="315.50" y2="257.75" stroke="#000" stroke-width="1.2" />
<text x="312.00" y="259.95" font-size="6.2" font-weight="bold" text-anchor="end" fill="#000" letter-spacing="-0.2">80</text>
<line x1="312.10" y1="239.92" x2="315.50" y2="239.92" stroke="#000" stroke-width="1.2" />
<text x="312.00" y="242.12" font-size="6.2" font-weight="bold" text-anchor="end" fill="#000" letter-spacing="-0.2">90</text>
<line x1="312.10" y1="222.09" x2="315.50" y2="222.09" stroke="#000" stroke-width="1.2" />
<text x="312.00" y="224.29" font-size="6.2" font-weight="bold" text-anchor="end" fill="#000" letter-spacing="-0.2">100</text>
<line x1="312.10" y1="204.26" x2="315.50" y2="204.26" stroke="#000" stroke-width="1.2" />
<text x="312.00" y="206.46" font-size="6.2" font-weight="bold" text-anchor="end" fill="#000" letter-spacing="-0.2">110</text>
<line x1="329.10" y1="346.90" x2="329.10" y2="349.90" stroke="#000" stroke-width="1.2" />
<text x="329.60" y="358.00" font-size="6.6" font-weight="bold" text-anchor="middle" fill="#000" >-12</text>
<line x1="356.00" y1="346.90" x2="356.00" y2="349.90" stroke="#000" stroke-width="1.2" />
<text x="356.50" y="358.00" font-size="6.6" font-weight="bold" text-anchor="middle" fill="#000" >-11</text>
<line x1="382.90" y1="346.90" x2="382.90" y2="349.90" stroke="#000" stroke-width="1.2" />
<text x="383.40" y="358.00" font-size="6.6" font-weight="bold" text-anchor="middle" fill="#000" >-10</text>
<line x1="409.80" y1="346.90" x2="409.80" y2="349.90" stroke="#000" stroke-width="1.2" />
<text x="410.30" y="358.00" font-size="6.6" font-weight="bold" text-anchor="middle" fill="#000" >-9</text>
<line x1="436.70" y1="346.90" x2="436.70" y2="349.90" stroke="#000" stroke-width="1.2" />
<text x="437.20" y="358.00" font-size="6.6" font-weight="bold" text-anchor="middle" fill="#000" >-8</text>
<text x="380.60" y="372.50" font-size="12.2" font-weight="bold" text-anchor="middle" fill="#000" >Log Concentration (M)</text>
<text transform="translate(295.70,272.30) rotate(-90)" font-size="13.6" font-weight="bold" text-anchor="middle" >% Untreated</text>
<path d="M321.00,227.50 L333.84,220.10 L346.68,217.20 L359.52,211.40 L372.36,209.60 L385.20,211.40 L398.04,225.60 L410.88,227.90 L423.72,236.50 L436.56,241.40 L449.40,240.80" fill="none" stroke="#8c8c8c" stroke-width="1.6" stroke-dasharray="3,2.2"/>
<path d="M321.00,239.00 L333.84,243.20 L346.68,250.50 L359.52,254.50 L372.36,268.90 L385.20,273.20 L398.04,290.80 L410.88,292.00 L423.72,301.00 L436.56,300.30 L449.40,294.00" fill="none" stroke="#000" stroke-width="1.6" stroke-dasharray="3,2.5"/>
<path d="M315.50,236.70 L316.96,237.13 L318.95,237.70 L321.32,238.38 L323.94,239.14 L326.65,239.93 L329.33,240.73 L331.82,241.50 L334.00,242.20 L335.89,242.85 L337.64,243.49 L339.28,244.12 L340.84,244.74 L342.37,245.36 L343.88,245.98 L345.41,246.59 L347.00,247.20 L348.63,247.81 L350.26,248.40 L351.90,248.99 L353.54,249.58 L355.17,250.17 L356.79,250.77 L358.40,251.38 L360.00,252.00 L361.58,252.62 L363.13,253.22 L364.68,253.82 L366.21,254.44 L367.75,255.08 L369.29,255.76 L370.83,256.50 L372.40,257.30 L373.98,258.15 L375.57,259.03 L377.17,259.95 L378.77,260.92 L380.38,261.95 L381.99,263.04 L383.60,264.23 L385.20,265.50 L386.80,266.90 L388.40,268.42 L389.99,270.05 L391.59,271.73 L393.19,273.45 L394.79,275.17 L396.39,276.87 L398.00,278.50 L399.62,280.10 L401.24,281.70 L402.86,283.29 L404.49,284.88 L406.12,286.44 L407.75,287.99 L409.37,289.51 L411.00,291.00 L412.62,292.46 L414.25,293.89 L415.88,295.30 L417.50,296.69 L419.12,298.05 L420.75,299.39 L422.38,300.71 L424.00,302.00 L425.62,303.27 L427.25,304.52 L428.88,305.74 L430.50,306.94 L432.12,308.11 L433.75,309.27 L435.38,310.39 L437.00,311.50 L438.71,312.63 L440.55,313.79 L442.45,314.96 L444.31,316.09 L446.08,317.15 L447.66,318.10 L449.00,318.89 L450.00,319.50" fill="none" stroke="#888" stroke-width="1.7"/>
<path d="M315.50,255.74 L316.00,255.87 L316.50,256.02 L317.00,256.17 L317.50,256.33 L318.00,256.51 L318.50,256.70 L319.00,256.90 L319.50,257.11 L320.00,257.34 L320.50,257.59 L321.00,257.85 L321.50,258.12 L322.00,258.42 L322.50,258.73 L323.00,259.07 L323.50,259.42 L324.00,259.79 L324.50,260.19 L325.00,260.61 L325.50,261.05 L326.00,261.51 L326.50,262.00 L327.00,262.51 L327.50,263.05 L328.00,263.61 L328.50,264.19 L329.00,264.80 L329.50,265.43 L330.00,266.08 L330.50,266.76 L331.00,267.46 L331.50,268.18 L332.00,268.91 L332.50,269.66 L333.00,270.43 L333.50,271.21 L334.00,272.01 L334.50,272.81 L335.00,273.62 L335.50,274.43 L336.00,275.25 L336.50,276.07 L337.00,276.88 L337.50,277.69 L338.00,278.50 L338.50,279.29 L339.00,280.07 L339.50,280.84 L340.00,281.59 L340.50,282.33 L341.00,283.05 L341.50,283.74 L342.00,284.42 L342.50,285.07 L343.00,285.71 L343.50,286.31 L344.00,286.90 L344.50,287.46 L345.00,287.99 L345.50,288.51 L346.00,289.00 L346.50,289.46 L347.00,289.90 L347.50,290.32 L348.00,290.72 L348.50,291.09 L349.00,291.45 L349.50,291.78 L350.00,292.09 L350.50,292.39 L351.00,292.67 L351.50,292.93 L352.00,293.18 L352.50,293.41 L353.00,293.62 L353.50,293.83 L354.00,294.02 L354.50,294.19 L355.00,294.36 L355.50,294.51 L356.00,294.66 L356.50,294.79 L357.00,294.92 L357.50,295.04 L358.00,295.15 L358.50,295.25 L359.00,295.35 L359.50,295.44 L360.00,295.52 L360.50,295.60 L361.00,295.67 L361.50,295.74 L362.00,295.81 L362.50,295.87 L363.00,295.93 L363.50,295.98 L364.00,296.03 L364.50,296.08 L365.00,296.13 L365.50,296.17 L366.00,296.21 L366.50,296.25 L367.00,296.29 L367.50,296.33 L368.00,296.36 L368.50,296.40 L369.00,296.43 L369.50,296.47 L370.00,296.50 L370.50,296.53 L371.00,296.57 L371.50,296.60 L372.00,296.63 L372.50,296.67 L373.00,296.70 L373.50,296.74 L374.00,296.78 L374.50,296.82 L375.00,296.85 L375.50,296.90 L376.00,296.94 L376.50,296.98 L377.00,297.03 L377.50,297.08 L378.00,297.14 L378.50,297.19 L379.00,297.25 L379.50,297.31 L380.00,297.38 L380.50,297.45 L381.00,297.52 L381.50,297.60 L382.00,297.69 L382.50,297.78 L383.00,297.88 L383.50,297.98 L384.00,298.09 L384.50,298.20 L385.00,298.33 L385.50,298.46 L386.00,298.60 L386.50,298.75 L387.00,298.91 L387.50,299.08 L388.00,299.25 L388.50,299.45 L389.00,299.65 L389.50,299.86 L390.00,300.09 L390.50,300.33 L391.00,300.59 L391.50,300.86 L392.00,301.14 L392.50,301.44 L393.00,301.76 L393.50,302.09 L394.00,302.45 L394.50,302.82 L395.00,303.20 L395.50,303.61 L396.00,304.04 L396.50,304.48 L397.00,304.94 L397.50,305.43 L398.00,305.93 L398.50,306.45 L399.00,306.99 L399.50,307.54 L400.00,308.12 L400.50,308.71 L401.00,309.32 L401.50,309.94 L402.00,310.57 L402.50,311.22 L403.00,311.88 L403.50,312.55 L404.00,313.23 L404.50,313.92 L405.00,314.61 L405.50,315.30 L406.00,316.00 L406.50,316.70 L407.00,317.39 L407.50,318.08 L408.00,318.77 L408.50,319.44 L409.00,320.12 L409.50,320.78 L410.00,321.42 L410.50,322.06 L411.00,322.68 L411.50,323.29 L412.00,323.88 L412.50,324.45 L413.00,325.01 L413.50,325.55 L414.00,326.07 L414.50,326.57 L415.00,327.05 L415.50,327.52 L416.00,327.96 L416.50,328.39 L417.00,328.79 L417.50,329.18 L418.00,329.55 L418.50,329.90 L419.00,330.23 L419.50,330.55 L420.00,330.85 L420.50,331.14 L421.00,331.40 L421.50,331.66 L422.00,331.90 L422.50,332.13 L423.00,332.34 L423.50,332.54 L424.00,332.73 L424.50,332.91 L425.00,333.08 L425.50,333.23 L426.00,333.38 L426.50,333.52 L427.00,333.65 L427.50,333.77 L428.00,333.89 L428.50,333.99 L429.00,334.09 L429.50,334.19 L430.00,334.27 L430.50,334.36 L431.00,334.43 L431.50,334.51 L432.00,334.57 L432.50,334.63 L433.00,334.69 L433.50,334.75 L434.00,334.80 L434.50,334.85 L435.00,334.89 L435.50,334.93 L436.00,334.97 L436.50,335.01 L437.00,335.04 L437.50,335.07 L438.00,335.10 L438.50,335.13 L439.00,335.15 L439.50,335.18 L440.00,335.20 L440.50,335.22 L441.00,335.24 L441.50,335.26 L442.00,335.27 L442.50,335.29 L443.00,335.30 L443.50,335.32 L444.00,335.33 L444.50,335.34 L445.00,335.35 L445.50,335.36 L446.00,335.37 L446.50,335.38 L447.00,335.39 L447.50,335.40 L448.00,335.40 L448.50,335.41 L449.00,335.42 L449.50,335.42 L450.00,335.43" fill="none" stroke="#000" stroke-width="1.8"/>
<line x1="321.00" y1="222.00" x2="321.00" y2="233.00" stroke="#333" stroke-width="1.0" />
<line x1="318.00" y1="222.00" x2="324.00" y2="222.00" stroke="#333" stroke-width="1.0" />
<line x1="318.00" y1="233.00" x2="324.00" y2="233.00" stroke="#333" stroke-width="1.0" />
<line x1="333.84" y1="214.10" x2="333.84" y2="226.10" stroke="#333" stroke-width="1.0" />
<line x1="330.84" y1="214.10" x2="336.84" y2="214.10" stroke="#333" stroke-width="1.0" />
<line x1="330.84" y1="226.10" x2="336.84" y2="226.10" stroke="#333" stroke-width="1.0" />
<line x1="346.68" y1="210.70" x2="346.68" y2="223.70" stroke="#333" stroke-width="1.0" />
<line x1="343.68" y1="210.70" x2="349.68" y2="210.70" stroke="#333" stroke-width="1.0" />
<line x1="343.68" y1="223.70" x2="349.68" y2="223.70" stroke="#333" stroke-width="1.0" />
<line x1="359.52" y1="208.40" x2="359.52" y2="214.40" stroke="#333" stroke-width="1.0" />
<line x1="356.52" y1="208.40" x2="362.52" y2="208.40" stroke="#333" stroke-width="1.0" />
<line x1="356.52" y1="214.40" x2="362.52" y2="214.40" stroke="#333" stroke-width="1.0" />
<line x1="372.36" y1="201.10" x2="372.36" y2="218.10" stroke="#333" stroke-width="1.0" />
<line x1="369.36" y1="201.10" x2="375.36" y2="201.10" stroke="#333" stroke-width="1.0" />
<line x1="369.36" y1="218.10" x2="375.36" y2="218.10" stroke="#333" stroke-width="1.0" />
<line x1="423.72" y1="231.90" x2="423.72" y2="241.10" stroke="#333" stroke-width="1.0" />
<line x1="420.72" y1="231.90" x2="426.72" y2="231.90" stroke="#333" stroke-width="1.0" />
<line x1="420.72" y1="241.10" x2="426.72" y2="241.10" stroke="#333" stroke-width="1.0" />
<line x1="436.56" y1="231.90" x2="436.56" y2="250.90" stroke="#333" stroke-width="1.0" />
<line x1="433.56" y1="231.90" x2="439.56" y2="231.90" stroke="#333" stroke-width="1.0" />
<line x1="433.56" y1="250.90" x2="439.56" y2="250.90" stroke="#333" stroke-width="1.0" />
<circle cx="321.00" cy="227.50" r="2.4" fill="#fff" stroke="#222" stroke-width="1.0"/>
<circle cx="333.84" cy="220.10" r="2.4" fill="#fff" stroke="#222" stroke-width="1.0"/>
<circle cx="346.68" cy="217.20" r="2.4" fill="#fff" stroke="#222" stroke-width="1.0"/>
<circle cx="359.52" cy="211.40" r="2.4" fill="#fff" stroke="#222" stroke-width="1.0"/>
<circle cx="372.36" cy="209.60" r="2.4" fill="#fff" stroke="#222" stroke-width="1.0"/>
<circle cx="385.20" cy="211.40" r="2.4" fill="#fff" stroke="#222" stroke-width="1.0"/>
<circle cx="398.04" cy="225.60" r="2.4" fill="#fff" stroke="#222" stroke-width="1.0"/>
<circle cx="410.88" cy="227.90" r="2.4" fill="#fff" stroke="#222" stroke-width="1.0"/>
<circle cx="423.72" cy="236.50" r="2.4" fill="#fff" stroke="#222" stroke-width="1.0"/>
<circle cx="436.56" cy="241.40" r="2.4" fill="#fff" stroke="#222" stroke-width="1.0"/>
<circle cx="449.40" cy="240.80" r="2.4" fill="#fff" stroke="#222" stroke-width="1.0"/>
<rect x="318.70" y="235.50" width="4.6" height="4.6" fill="#fff" stroke="#333" stroke-width="0.9"/>
<rect x="331.54" y="235.50" width="4.6" height="4.6" fill="#fff" stroke="#333" stroke-width="0.9"/>
<rect x="344.38" y="246.70" width="4.6" height="4.6" fill="#fff" stroke="#333" stroke-width="0.9"/>
<rect x="357.22" y="245.90" width="4.6" height="4.6" fill="#fff" stroke="#333" stroke-width="0.9"/>
<rect x="370.06" y="254.90" width="4.6" height="4.6" fill="#fff" stroke="#333" stroke-width="0.9"/>
<rect x="382.90" y="258.00" width="4.6" height="4.6" fill="#fff" stroke="#333" stroke-width="0.9"/>
<rect x="395.74" y="283.60" width="4.6" height="4.6" fill="#fff" stroke="#333" stroke-width="0.9"/>
<rect x="408.58" y="283.60" width="4.6" height="4.6" fill="#fff" stroke="#333" stroke-width="0.9"/>
<rect x="421.42" y="300.70" width="4.6" height="4.6" fill="#fff" stroke="#333" stroke-width="0.9"/>
<rect x="434.26" y="312.00" width="4.6" height="4.6" fill="#fff" stroke="#333" stroke-width="0.9"/>
<rect x="447.10" y="317.50" width="4.6" height="4.6" fill="#fff" stroke="#333" stroke-width="0.9"/>
<line x1="321.00" y1="232.80" x2="321.00" y2="249.30" stroke="#000" stroke-width="1.0" />
<line x1="317.90" y1="232.80" x2="324.10" y2="232.80" stroke="#000" stroke-width="1.0" />
<line x1="317.90" y1="249.30" x2="324.10" y2="249.30" stroke="#000" stroke-width="1.0" />
<line x1="333.84" y1="235.50" x2="333.84" y2="252.20" stroke="#000" stroke-width="1.0" />
<line x1="330.74" y1="235.50" x2="336.94" y2="235.50" stroke="#000" stroke-width="1.0" />
<line x1="330.74" y1="252.20" x2="336.94" y2="252.20" stroke="#000" stroke-width="1.0" />
<line x1="346.68" y1="242.40" x2="346.68" y2="256.80" stroke="#000" stroke-width="1.0" />
<line x1="343.58" y1="242.40" x2="349.78" y2="242.40" stroke="#000" stroke-width="1.0" />
<line x1="343.58" y1="256.80" x2="349.78" y2="256.80" stroke="#000" stroke-width="1.0" />
<line x1="359.52" y1="241.60" x2="359.52" y2="258.90" stroke="#000" stroke-width="1.0" />
<line x1="356.42" y1="241.60" x2="362.62" y2="241.60" stroke="#000" stroke-width="1.0" />
<line x1="356.42" y1="258.90" x2="362.62" y2="258.90" stroke="#000" stroke-width="1.0" />
<line x1="372.36" y1="265.90" x2="372.36" y2="271.90" stroke="#000" stroke-width="1.0" />
<line x1="369.26" y1="265.90" x2="375.46" y2="265.90" stroke="#000" stroke-width="1.0" />
<line x1="369.26" y1="271.90" x2="375.46" y2="271.90" stroke="#000" stroke-width="1.0" />
<line x1="385.20" y1="266.70" x2="385.20" y2="279.70" stroke="#000" stroke-width="1.0" />
<line x1="382.10" y1="266.70" x2="388.30" y2="266.70" stroke="#000" stroke-width="1.0" />
<line x1="382.10" y1="279.70" x2="388.30" y2="279.70" stroke="#000" stroke-width="1.0" />
<line x1="398.04" y1="279.80" x2="398.04" y2="301.80" stroke="#000" stroke-width="1.0" />
<line x1="394.94" y1="279.80" x2="401.14" y2="279.80" stroke="#000" stroke-width="1.0" />
<line x1="394.94" y1="301.80" x2="401.14" y2="301.80" stroke="#000" stroke-width="1.0" />
<line x1="410.88" y1="288.00" x2="410.88" y2="296.00" stroke="#000" stroke-width="1.0" />
<line x1="407.78" y1="288.00" x2="413.98" y2="288.00" stroke="#000" stroke-width="1.0" />
<line x1="407.78" y1="296.00" x2="413.98" y2="296.00" stroke="#000" stroke-width="1.0" />
<line x1="423.72" y1="295.50" x2="423.72" y2="306.50" stroke="#000" stroke-width="1.0" />
<line x1="420.62" y1="295.50" x2="426.82" y2="295.50" stroke="#000" stroke-width="1.0" />
<line x1="420.62" y1="306.50" x2="426.82" y2="306.50" stroke="#000" stroke-width="1.0" />
<line x1="436.56" y1="293.30" x2="436.56" y2="307.30" stroke="#000" stroke-width="1.0" />
<line x1="433.46" y1="293.30" x2="439.66" y2="293.30" stroke="#000" stroke-width="1.0" />
<line x1="433.46" y1="307.30" x2="439.66" y2="307.30" stroke="#000" stroke-width="1.0" />
<line x1="449.40" y1="286.50" x2="449.40" y2="301.50" stroke="#000" stroke-width="1.0" />
<line x1="446.30" y1="286.50" x2="452.50" y2="286.50" stroke="#000" stroke-width="1.0" />
<line x1="446.30" y1="301.50" x2="452.50" y2="301.50" stroke="#000" stroke-width="1.0" />
<line x1="321.00" y1="255.00" x2="321.00" y2="260.20" stroke="#000" stroke-width="1.0" />
<line x1="317.90" y1="255.00" x2="324.10" y2="255.00" stroke="#000" stroke-width="1.0" />
<line x1="317.90" y1="260.20" x2="324.10" y2="260.20" stroke="#000" stroke-width="1.0" />
<line x1="359.52" y1="292.20" x2="359.52" y2="301.20" stroke="#000" stroke-width="1.0" />
<line x1="356.42" y1="292.20" x2="362.62" y2="292.20" stroke="#000" stroke-width="1.0" />
<line x1="356.42" y1="301.20" x2="362.62" y2="301.20" stroke="#000" stroke-width="1.0" />
<line x1="372.36" y1="295.20" x2="372.36" y2="302.20" stroke="#000" stroke-width="1.0" />
<line x1="369.26" y1="295.20" x2="375.46" y2="295.20" stroke="#000" stroke-width="1.0" />
<line x1="369.26" y1="302.20" x2="375.46" y2="302.20" stroke="#000" stroke-width="1.0" />
<line x1="385.20" y1="290.30" x2="385.20" y2="300.30" stroke="#000" stroke-width="1.0" />
<line x1="382.10" y1="290.30" x2="388.30" y2="290.30" stroke="#000" stroke-width="1.0" />
<line x1="382.10" y1="300.30" x2="388.30" y2="300.30" stroke="#000" stroke-width="1.0" />
<line x1="398.04" y1="301.00" x2="398.04" y2="310.40" stroke="#000" stroke-width="1.0" />
<line x1="394.94" y1="301.00" x2="401.14" y2="301.00" stroke="#000" stroke-width="1.0" />
<line x1="394.94" y1="310.40" x2="401.14" y2="310.40" stroke="#000" stroke-width="1.0" />
<line x1="423.72" y1="328.40" x2="423.72" y2="335.40" stroke="#000" stroke-width="1.0" />
<line x1="420.62" y1="328.40" x2="426.82" y2="328.40" stroke="#000" stroke-width="1.0" />
<line x1="420.62" y1="335.40" x2="426.82" y2="335.40" stroke="#000" stroke-width="1.0" />
<line x1="449.40" y1="330.30" x2="449.40" y2="341.30" stroke="#000" stroke-width="1.0" />
<line x1="446.30" y1="330.30" x2="452.50" y2="330.30" stroke="#000" stroke-width="1.0" />
<line x1="446.30" y1="341.30" x2="452.50" y2="341.30" stroke="#000" stroke-width="1.0" />
<rect x="318.70" y="236.70" width="4.6" height="4.6" fill="#000" stroke="none" stroke-width="0.9"/>
<rect x="331.54" y="240.90" width="4.6" height="4.6" fill="#000" stroke="none" stroke-width="0.9"/>
<rect x="344.38" y="248.20" width="4.6" height="4.6" fill="#000" stroke="none" stroke-width="0.9"/>
<rect x="357.22" y="252.20" width="4.6" height="4.6" fill="#000" stroke="none" stroke-width="0.9"/>
<rect x="370.06" y="266.60" width="4.6" height="4.6" fill="#000" stroke="none" stroke-width="0.9"/>
<rect x="382.90" y="270.90" width="4.6" height="4.6" fill="#000" stroke="none" stroke-width="0.9"/>
<rect x="395.74" y="288.50" width="4.6" height="4.6" fill="#000" stroke="none" stroke-width="0.9"/>
<rect x="408.58" y="289.70" width="4.6" height="4.6" fill="#000" stroke="none" stroke-width="0.9"/>
<rect x="421.42" y="298.70" width="4.6" height="4.6" fill="#000" stroke="none" stroke-width="0.9"/>
<rect x="434.26" y="298.00" width="4.6" height="4.6" fill="#000" stroke="none" stroke-width="0.9"/>
<rect x="447.10" y="291.70" width="4.6" height="4.6" fill="#000" stroke="none" stroke-width="0.9"/>
<circle cx="321.00" cy="257.60" r="2.6" fill="#000" stroke="none" stroke-width="0.9"/>
<circle cx="333.84" cy="270.90" r="2.6" fill="#000" stroke="none" stroke-width="0.9"/>
<circle cx="346.68" cy="286.80" r="2.6" fill="#000" stroke="none" stroke-width="0.9"/>
<circle cx="359.52" cy="296.70" r="2.6" fill="#000" stroke="none" stroke-width="0.9"/>
<circle cx="372.36" cy="298.70" r="2.6" fill="#000" stroke="none" stroke-width="0.9"/>
<circle cx="385.20" cy="295.30" r="2.6" fill="#000" stroke="none" stroke-width="0.9"/>
<circle cx="398.04" cy="305.70" r="2.6" fill="#000" stroke="none" stroke-width="0.9"/>
<circle cx="410.88" cy="319.60" r="2.6" fill="#000" stroke="none" stroke-width="0.9"/>
<circle cx="423.72" cy="331.90" r="2.6" fill="#000" stroke="none" stroke-width="0.9"/>
<circle cx="436.56" cy="333.00" r="2.6" fill="#000" stroke="none" stroke-width="0.9"/>
<circle cx="449.40" cy="335.80" r="2.6" fill="#000" stroke="none" stroke-width="0.9"/>
<line x1="458.30" y1="254.00" x2="474.90" y2="254.00" stroke="#999" stroke-width="1.5" stroke-dasharray="2.2,2"/>
<circle cx="466.70" cy="254.00" r="2.4" fill="none" stroke="#222" stroke-width="1.0"/>
<circle cx="466.70" cy="254.00" r="0.6" fill="#666" stroke="none" stroke-width="0.9"/>
<line x1="458.30" y1="267.50" x2="475.50" y2="267.50" stroke="#000" stroke-width="1.7" stroke-dasharray="2.2,2"/>
<rect x="465.30" y="265.20" width="4.6" height="4.6" fill="#000" stroke="none" stroke-width="0.9"/>
<line x1="459.60" y1="282.20" x2="476.00" y2="282.20" stroke="#999" stroke-width="1.5" />
<rect x="465.20" y="279.80" width="4.8" height="4.8" fill="#fff" stroke="#333" stroke-width="0.9"/>
<line x1="459.60" y1="309.10" x2="476.20" y2="309.10" stroke="#000" stroke-width="1.5" />
<circle cx="468.30" cy="309.10" r="2.6" fill="#000" stroke="none" stroke-width="0.9"/>
<text x="476.30" y="257.60" font-size="10.6" font-weight="bold" text-anchor="start" fill="#000" >v-mab</text>
<text x="476.30" y="271.20" font-size="10.6" font-weight="bold" text-anchor="start" fill="#000" >734-2b</text>
<text x="476.30" y="285.30" font-size="10.6" font-weight="bold" text-anchor="start" fill="#000" >v-mab</text>
<text x="476.90" y="298.60" font-size="10.6" font-weight="bold" text-anchor="start" fill="#000" >+ 734-2b</text>
<text x="476.30" y="312.60" font-size="10.6" font-weight="bold" text-anchor="start" fill="#000" >20-2b</text>
</svg></body></html>
